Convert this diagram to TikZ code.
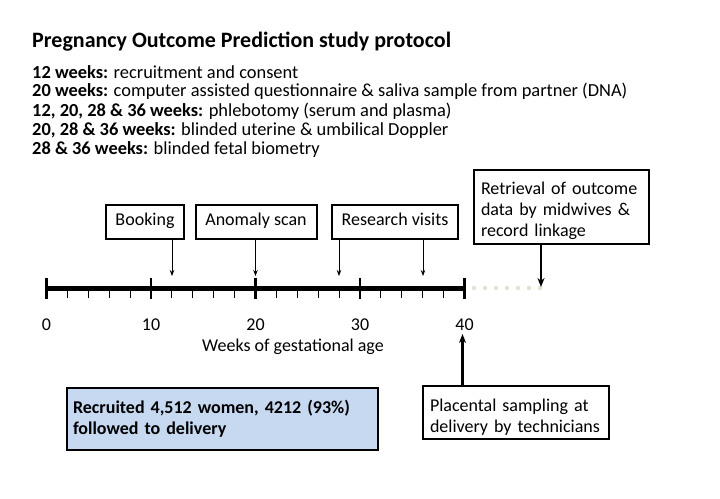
\documentclass[tikz,border=0pt]{standalone}
\usepackage{fontspec}
\setmainfont{Carlito}
\usetikzlibrary{arrows.meta}
\definecolor{boxblue}{HTML}{C6D9F1}
\definecolor{dotgrey}{HTML}{E4E1D4}
\newcommand\lowstrut{\rule{0pt}{21pt}}
\tikzset{
  evbox/.style={draw=black, line width=2pt, font=\fontsize{18}{21}\selectfont, inner sep=0pt, text height=12.5pt, text depth=4pt, minimum height=34pt},
  infobox/.style={draw=black, line width=2pt, font=\fontsize{18}{21}\selectfont, align=left, inner xsep=7pt, inner ysep=2pt, anchor=north west},
  thinarrow/.style={-{Stealth[length=6pt,width=4.5pt]}, line width=0.8pt},
  thickarrow/.style={-{Stealth[length=9pt,width=7pt]}, line width=2.5pt},
  listtext/.style={font=\fontsize{18.4}{21}\selectfont, anchor=west, inner sep=0pt},
  ticklabel/.style={font=\fontsize{18}{21}\selectfont, inner sep=0pt}
}
\begin{document}
\begin{tikzpicture}[x=1pt,y=-1pt]
\useasboundingbox (0,0) rectangle (720,498);
% title and list
\node[listtext, font=\fontsize{22}{26}\selectfont\bfseries] (title) at (32,42) {Pregnancy Outcome Prediction study protocol};
\node[listtext] (l1) at (32,72) {\textbf{12 weeks:} recruitment and consent};
\node[listtext] (l2) at (32,91.5) {\textbf{20 weeks:} computer assisted questionnaire \& saliva sample from partner (DNA)};
\node[listtext] (l3) at (32,111) {\textbf{12, 20, 28 \& 36 weeks:} phlebotomy (serum and plasma)};
\node[listtext] (l4) at (32,130.5) {\textbf{20, 28 \& 36 weeks:} blinded uterine \& umbilical Doppler};
\node[listtext] (l5) at (32,150) {\textbf{28 \& 36 weeks:} blinded fetal biometry};
% axis
\coordinate (w0) at (46.5,288);
\coordinate (w40) at (464.5,288);
\draw[line width=5pt] (w0) -- (w40);
\foreach \w in {2,4,...,38} {
  \draw[line width=1pt] ({46.5+\w*10.45},288) -- ({46.5+\w*10.45},298);
}
\foreach \w in {0,10,20,30,40} {
  \draw[line width=2.5pt] ({46.5+\w*10.45},278) -- ({46.5+\w*10.45},299);
  \node[ticklabel] (lab\w) at ({46.5+\w*10.45},325) {\w};
}
\node[ticklabel] (xlabel) at (293,347) {Weeks of gestational age};
% dotted extension
\foreach \i in {0,...,6} {
  \fill[dotgrey] ({474+\i*11},288) circle (2.2pt);
}
% event boxes
\node[evbox, minimum width=78pt] (booking) at (145,221.5) {Booking};
\node[evbox, minimum width=121pt] (anomaly) at (256,221.5) {Anomaly scan};
\node[evbox, minimum width=126pt] (research) at (395,221.5) {Research visits};
\coordinate (a12) at (172,276);
\coordinate (a20) at (255.5,276);
\coordinate (a28) at (339,276);
\coordinate (a36) at (423,276);
\draw[thinarrow] (booking.south -| a12) -- (a12);
\draw[thinarrow] (anomaly.south -| a20) -- (a20);
\draw[thinarrow] (research.south -| a28) -- (a28);
\draw[thinarrow] (research.south -| a36) -- (a36);
% retrieval
\node[infobox, minimum width=175pt, minimum height=74pt, text width=161pt] (retrieval) at (473,169) {\lowstrut Retrieval of outcome\\data by midwives \&\\record linkage};
\coordinate (aret) at (541,287);
\draw[thickarrow] (retrieval.south -| aret) -- (aret);
% placental
\node[infobox, minimum width=186pt, minimum height=53pt, text width=172pt] (placental) at (422,385) {\lowstrut Placental sampling at\\delivery by technicians};
\coordinate (aplac) at (462.5,334);
\draw[thickarrow] (placental.north -| aplac) -- (aplac);
% recruited
\node[infobox, fill=boxblue, font=\fontsize{18}{21}\selectfont\bfseries, inner xsep=6pt, minimum width=311pt, minimum height=62pt, text width=299pt] (recruited) at (66,387) {Recruited 4,512 women, 4212 (93\%)\\followed to delivery};
\end{tikzpicture}
\end{document}
